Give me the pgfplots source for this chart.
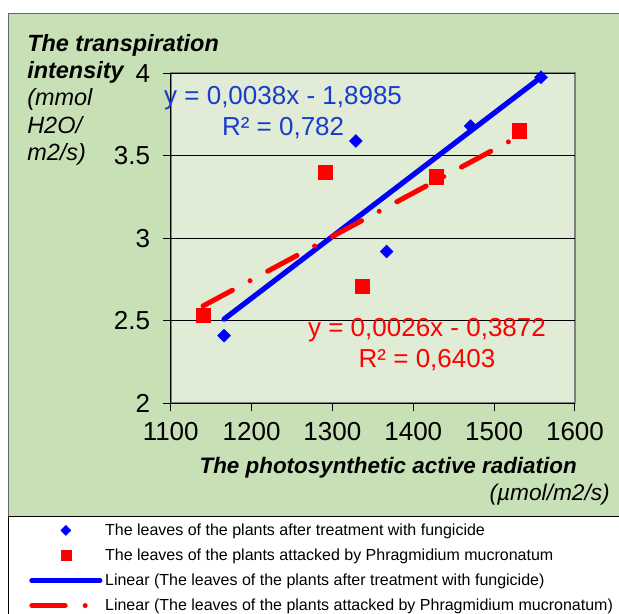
\documentclass[border=0pt]{standalone}
\usepackage{fontspec}
\setmainfont{Liberation Sans}
\usepackage{pgfplots}
\pgfplotsset{compat=1.18}
\definecolor{chartbg}{RGB}{200,224,182}
\definecolor{plotbg}{RGB}{224,236,214}
\definecolor{eqblue}{RGB}{25,60,205}
\pgfplotsset{
  dmleg/.style={legend image code/.code={\draw[mark repeat=2,mark phase=2,##1,only marks,mark size=2.65pt] plot coordinates {(0pt,0pt) (25.5pt,0pt) (51pt,0pt)};}},
  sqleg/.style={legend image code/.code={\draw[mark repeat=2,mark phase=2,##1,only marks,mark size=3.75pt] plot coordinates {(0pt,0pt) (25.5pt,0pt) (51pt,0pt)};}},
  lnleg/.style={legend image code/.code={\draw[##1] (0pt,0pt) -- (51pt,0pt);}},
}

\begin{document}
\begin{tikzpicture}
\clip (0pt,0pt) rectangle (464.25pt,-460.5pt);
% frame, in pixel units of the reference
\begin{scope}[x=0.75pt,y=-0.75pt]
\fill[chartbg] (8.5,13.5) rectangle (640,516);
\draw[gray!80!black, line width=0.75pt] (8.5,640) -- (8.5,13.5) -- (640,13.5);
\fill[white] (8.5,516) rectangle (640,640);
\draw[black, line width=0.75pt] (8.5,640) -- (8.5,516) -- (640,516);
% y title
\node[anchor=base west, inner sep=0pt, font=\fontsize{17.6}{20}\selectfont\bfseries\itshape] at (27,51) {The transpiration};
\node[anchor=base west, inner sep=0pt, font=\fontsize{17.6}{20}\selectfont\bfseries\itshape] at (27,78.4) {intensity};
\node[anchor=base west, inner sep=0pt, font=\fontsize{17.6}{20}\selectfont\itshape] at (27,105.8) {(mmol};
\node[anchor=base west, inner sep=0pt, font=\fontsize{17.6}{20}\selectfont\itshape] at (27,133.2) {H2O/};
\node[anchor=base west, inner sep=0pt, font=\fontsize{17.6}{20}\selectfont\itshape] at (27,160.6) {m2/s)};
% x title
\node[anchor=base east, inner sep=0pt, font=\fontsize{16.8}{20}\selectfont\bfseries\itshape] at (577,473) {The photosynthetic active radiation};
\node[anchor=base east, inner sep=0pt, font=\fontsize{17}{20}\selectfont\itshape] at (610,500) {(µmol/m2/s)};
\end{scope}

\begin{axis}[
  at={(128.03pt,-302.48pt)}, anchor=south west,
  scale only axis, width=303.2pt, height=247.5pt,
  xmin=1100, xmax=1600, ymin=2, ymax=4,
  xtick={1100,1200,1300,1400,1500,1600},
  ytick={2,2.5,3,3.5,4},
  axis lines=left,
  axis line style={-, black, line width=0.75pt},
  axis background/.style={fill=plotbg, draw=gray, line width=1.5pt},
  tick align=outside, major tick length=6pt,
  tick style={black, line width=0.75pt},
  ymajorgrids, major grid style={black, line width=0.6pt},
  /pgf/number format/assume math mode=true,
  /pgf/number format/1000 sep={},
  ticklabel style={font=\fontsize{19.5}{22}\selectfont},
  yticklabel style={xshift=-6pt},
  xticklabel style={yshift=-5pt},
  clip=false,
  legend style={at={(-0.3604,-0.3476)}, anchor=north west, draw=none, fill=none,
    font=\fontsize{12}{14}\selectfont, row sep=4.6pt},
  legend cell align=left,
]
\addplot[only marks, color=blue, mark=square*, mark size=3.4pt,
  mark options={rotate=45, fill=blue, draw=blue}, dmleg]
  coordinates {(1166,2.41) (1329,3.59) (1367,2.92) (1471,3.68) (1558,3.976)};
\addplot[only marks, color=red, mark=square*, mark size=5.3pt,
  mark options={fill=red, draw=red}, sqleg]
  coordinates {(1140,2.535) (1291,3.40) (1337,2.707) (1428,3.373) (1531,3.652)};
\addplot[blue, line width=3.9pt, line cap=round, lnleg]
  coordinates {(1166,2.51) (1558,3.976)};
\addplot[red, line width=3.75pt, line cap=round,
  dash pattern=on 25pt off 15pt on 0pt off 15pt, lnleg]
  coordinates {(1140,2.59) (1531,3.62)};
\legend{The leaves of the plants after treatment with fungicide,
  The leaves of the plants attacked by Phragmidium mucronatum,
  Linear (The leaves of the plants after treatment with fungicide),
  Linear (The leaves of the plants attacked by Phragmidium mucronatum)}
\node[eqblue, align=center, font=\fontsize{19.5}{23.25}\selectfont] at (axis cs:1239,3.76)
  {y = 0,0038x - 1,8985\\R² = 0,782};
\node[red, align=center, font=\fontsize{19.5}{23.25}\selectfont] at (axis cs:1417,2.356)
  {y = 0,0026x - 0,3872\\R² = 0,6403};
\end{axis}
\end{tikzpicture}
\end{document}
